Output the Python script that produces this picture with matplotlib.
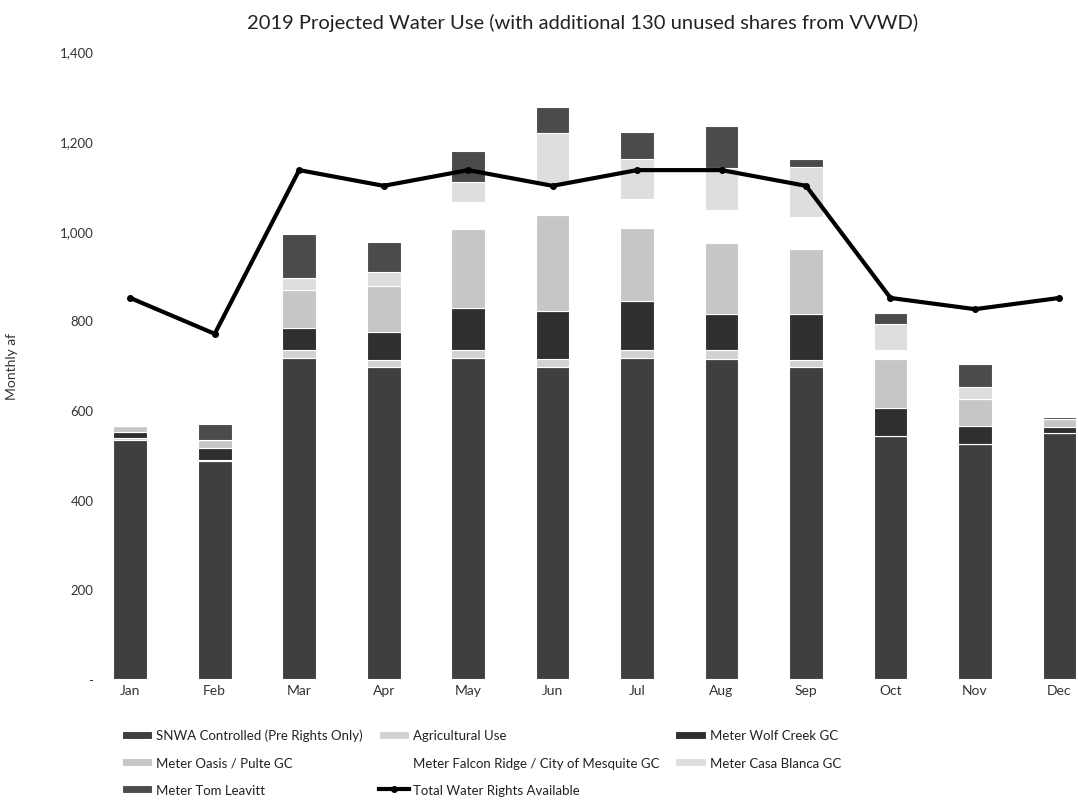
import numpy as np
import matplotlib.pyplot as plt
from matplotlib.ticker import FuncFormatter

months = ['Jan', 'Feb', 'Mar', 'Apr', 'May', 'Jun', 'Jul', 'Aug', 'Sep', 'Oct', 'Nov', 'Dec']
snwa = [533, 486, 717, 695, 717, 695, 717, 713, 695, 542, 524, 548]
agricultural = [4, 3, 16, 16, 18, 19, 18, 22, 16, 0, 0, 0]
wolf_creek = [13, 26, 51, 62, 93, 106, 108, 80, 103, 63, 41, 14]
oasis_pulte = [14, 18, 83, 104, 175, 216, 164, 158, 145, 108, 60, 19]
falcon_ridge = [0, 0, 0, 0, 60, 71, 63, 74, 71, 22, 0, 0]
casa_blanca = [0, 0, 28, 30, 45, 111, 89, 93, 111, 56, 26, 0]
tom_leavitt = [0, 36, 98, 68, 70, 58, 61, 93, 19, 25, 51, 4]
total_rights = [850, 770, 1135, 1100, 1135, 1100, 1135, 1135, 1100, 850, 825, 850]

series = [
    ('SNWA Controlled (Pre Rights Only)', snwa, '#3f3f3f'),
    ('Meter Oasis / Pulte GC', oasis_pulte, '#c6c6c6'),
    ('Meter Tom Leavitt', tom_leavitt, '#4b4b4b'),
    ('Agricultural Use', agricultural, '#d2d2d2'),
    ('Meter Falcon Ridge / City of Mesquite GC', falcon_ridge, '#ffffff'),
    ('Meter Wolf Creek GC', wolf_creek, '#2f2f2f'),
    ('Meter Casa Blanca GC', casa_blanca, '#dedede'),
]
stack_order = ['SNWA Controlled (Pre Rights Only)', 'Agricultural Use', 'Meter Wolf Creek GC',
               'Meter Oasis / Pulte GC', 'Meter Falcon Ridge / City of Mesquite GC',
               'Meter Casa Blanca GC', 'Meter Tom Leavitt']

plt.rcParams['font.family'] = ['Lato', 'DejaVu Sans']

fig = plt.figure(figsize=(10.78, 8.04), dpi=100)
ax = fig.add_axes([88/1078, 0.154, 990/1078, 0.781])

x = np.arange(len(months))
lookup = {name: (vals, col) for name, vals, col in series}
handles = {}
bottom = np.zeros(len(months))
for name in stack_order:
    vals, col = lookup[name]
    vals = np.array(vals, dtype=float)
    h = ax.bar(x, vals, 0.40, bottom=bottom, color=col, edgecolor='white', linewidth=0.8, label=name)
    handles[name] = h
    bottom += vals

line, = ax.plot(x, total_rights, color='black', lw=3, marker='o', ms=4,
                label='Total Water Rights Available')

ax.set_xlim(-0.5, 11.22)
ax.set_ylim(0, 1400)
ax.set_yticks(np.arange(0, 1401, 200))
ax.yaxis.set_major_formatter(FuncFormatter(lambda v, p: '-' if v == 0 else f'{v:,.0f}'))
ax.set_xticks(x)
ax.set_xticklabels(months)
ax.tick_params(length=0, labelsize=10, colors='#333333')
ax.tick_params(axis='y', pad=-4, labelsize=9.5)
for s in ax.spines.values():
    s.set_visible(False)
ax.set_ylabel('Monthly af', fontsize=10, color='#333333')
ax.yaxis.set_label_coords(-0.071, 0.5)

fig.suptitle('2019 Projected Water Use (with additional 130 unused shares from VVWD)',
             x=0.54, y=0.983, fontsize=14.5, color='#222222')

order = [n for n, _, _ in series[:3]] + [n for n, _, _ in series[3:5]]
leg_handles = [handles[n] for n in order] + [line] + [handles[n] for n in [s[0] for s in series[5:]]]
leg_labels = order + ['Total Water Rights Available'] + [s[0] for s in series[5:]]
fig.legend(leg_handles, leg_labels, ncol=3, frameon=False, fontsize=9.5,
           loc='upper left', bbox_to_anchor=(110/1078, 1 - 718/804),
           handlelength=2.3, handleheight=0.6, columnspacing=1.2, labelspacing=1.15,
           handletextpad=0.3, labelcolor='#222222')

fig.savefig('out.png', dpi=100)
